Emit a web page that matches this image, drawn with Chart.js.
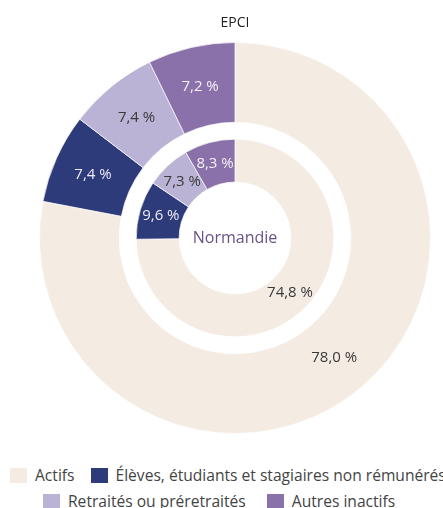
<!DOCTYPE html>
<html lang="fr">
<head>
<meta charset="utf-8">
<script src="https://cdn.jsdelivr.net/npm/chart.js@4/dist/chart.umd.min.js"></script>
<style>
  body { margin: 0; background: #fff; width: 443px; height: 508px; overflow: hidden; font-family: "Open Sans", sans-serif; }
  #wrap { position: relative; width: 443px; height: 450px; }
  .row { position: absolute; display: flex; align-items: center; white-space: nowrap; font-size: 15.6px; color: #444; }
  .item { display: flex; align-items: center; }
  .box { width: 17px; height: 15px; margin-right: 8px; }
</style>
</head>
<body>
<div id="wrap"><canvas id="donut" width="443" height="450"></canvas></div>
<div id="legend"></div>
<script>
// categories and values (%)
const categories = ['Actifs', 'Élèves, étudiants et stagiaires non rémunérés', 'Retraités ou préretraités', 'Autres inactifs'];
const epci = [78.0, 7.4, 7.4, 7.2];
const normandie = [74.8, 9.6, 7.3, 8.3];

const colors = ['#f4ebe2', '#2e3b7a', '#bbb3d5', '#8b71a9'];
const textColors = ['#3a3a3a', '#ecebf5', '#3a3a3a', '#f3f1f8'];

function fmt(v) {
    return v.toFixed(1).replace('.', ',') + ' %';
}

// writes the value in the middle of each slice
const sliceLabels = {
    id: 'sliceLabels',
    afterDatasetsDraw(chart) {
        const ctx = chart.ctx;
        ctx.save();
        ctx.font = '15px "Open Sans"';
        ctx.textAlign = 'center';
        ctx.textBaseline = 'middle';
        chart.data.datasets.forEach((ds, di) => {
            if (ds.spacer) return;
            chart.getDatasetMeta(di).data.forEach((arc, i) => {
                const p = arc.tooltipPosition();
                ctx.fillStyle = textColors[i];
                ctx.fillText(fmt(ds.data[i]), p.x, p.y);
            });
        });
        // centre label
        const arc = chart.getDatasetMeta(0).data[0];
        ctx.font = '16px "Open Sans"';
        ctx.fillStyle = '#6a5289';
        ctx.fillText('Normandie', arc.x, arc.y);
        ctx.restore();
    }
};

const donut_data = {
    labels: categories,
    datasets: [{
        label: 'EPCI',
        data: epci,
        backgroundColor: colors,
        borderColor: 'rgba(255,255,255,0.7)',
        borderWidth: 1,
        weight: 80
    }, {
        // white gap between the two rings
        label: '',
        spacer: true,
        data: [1],
        backgroundColor: 'rgba(0,0,0,0)',
        borderWidth: 0,
        weight: 17
    }, {
        label: 'Normandie',
        data: normandie,
        backgroundColor: colors,
        borderColor: 'rgba(255,255,255,0.7)',
        borderWidth: 1,
        weight: 43
    }]
};

const configDonut = {
    type: 'doughnut',
    data: donut_data,
    options: {
        responsive: false,
        animation: false,
        cutout: '28.6%',
        layout: {
            padding: { left: 39, right: 12, top: 15, bottom: 16 }
        },
        plugins: {
            legend: { display: false },
            tooltip: { enabled: false },
            title: {
                display: true,
                text: 'EPCI',
                color: '#222',
                font: { family: 'Open Sans', size: 14, weight: 'normal', lineHeight: 1.2 },
                padding: { top: 0, bottom: 10.2 }
            }
        }
    },
    plugins: [sliceLabels]
};

const DonutChart = new Chart(document.getElementById('donut'), configDonut);

// legend in two rows, like the original
const rows = [
    { items: [0, 1], left: 10, top: 464, gaps: [16] },
    { items: [2, 3], left: 43, top: 490, gaps: [21] }
];
const legend = document.getElementById('legend');
rows.forEach(r => {
    const row = document.createElement('div');
    row.className = 'row';
    row.style.left = r.left + 'px';
    row.style.top = r.top + 'px';
    r.items.forEach((idx, k) => {
        const item = document.createElement('span');
        item.className = 'item';
        if (k > 0) item.style.marginLeft = r.gaps[k - 1] + 'px';
        const box = document.createElement('span');
        box.className = 'box';
        box.style.background = colors[idx];
        item.appendChild(box);
        item.appendChild(document.createTextNode(categories[idx]));
        row.appendChild(item);
    });
    legend.appendChild(row);
});
</script>
</body>
</html>
